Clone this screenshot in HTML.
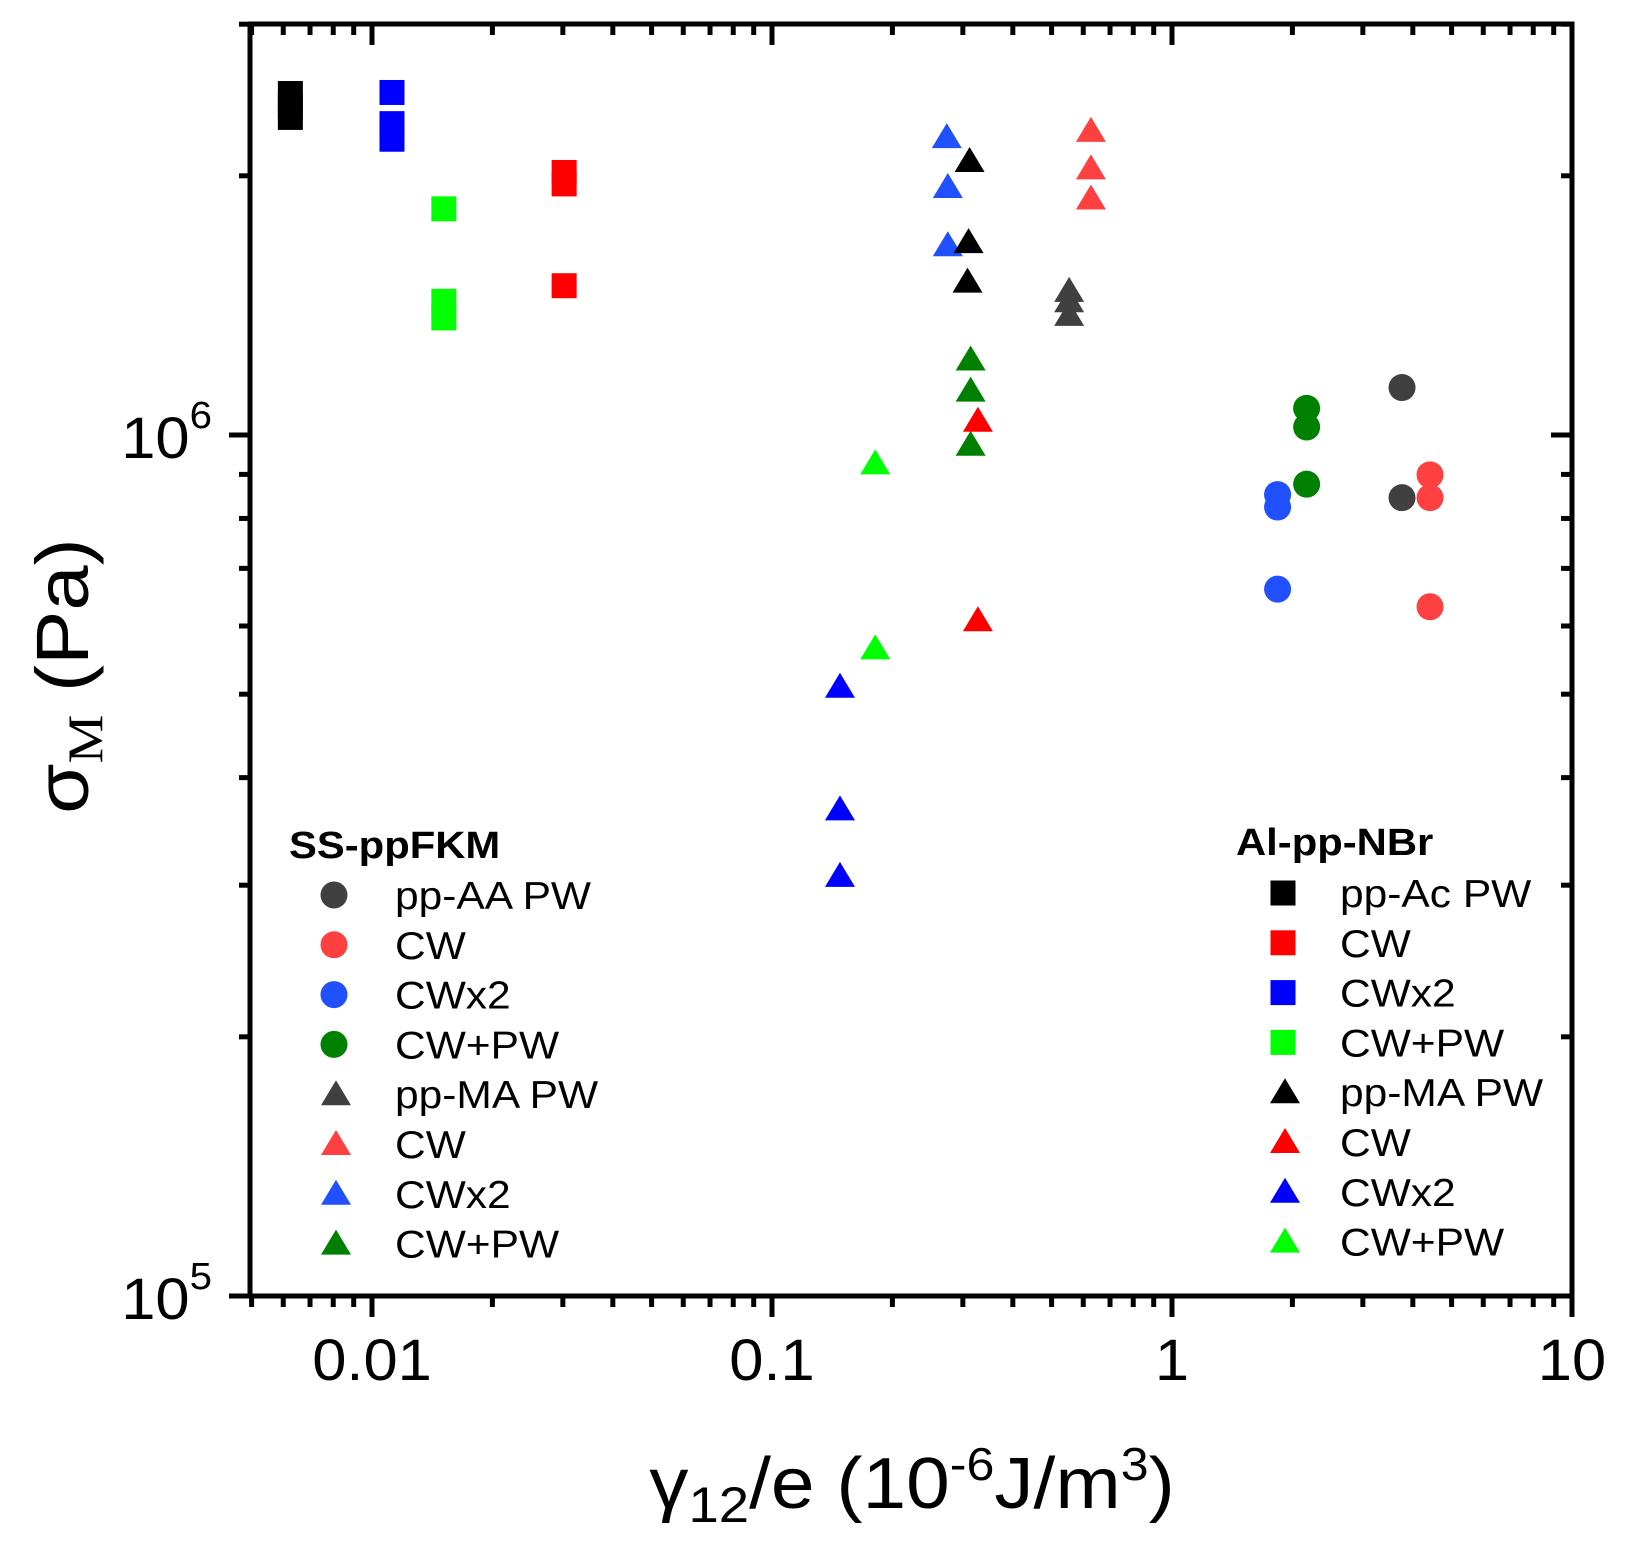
<!DOCTYPE html>
<html><head><meta charset="utf-8"><style>html,body{margin:0;padding:0;background:#fff}svg{display:block}</style></head>
<body>
<svg id="s" width="1626" height="1547" xmlns="http://www.w3.org/2000/svg" font-family="Liberation Sans, Arial, sans-serif">
<rect width="1626" height="1547" fill="#fff"/>
<g id="data"></g>
<g id="axes" stroke="#000" stroke-width="5" fill="none"></g>
<g font-size="58" fill="#000" text-anchor="middle">
<text transform="translate(372,1380) scale(1.06,1)">0.01</text>
<text transform="translate(772,1380) scale(1.06,1)">0.1</text>
<text transform="translate(1172,1380) scale(1.06,1)">1</text>
<text transform="translate(1572,1380) scale(1.06,1)">10</text>
</g>
<g font-size="58" fill="#000" text-anchor="end">
<text transform="translate(212,458) scale(1.06,1)">10<tspan font-size="38" dy="-30">6</tspan></text>
<text transform="translate(212,1319) scale(1.06,1)">10<tspan font-size="38" dy="-30">5</tspan></text>
</g>
<text transform="translate(88,676) rotate(-90) scale(1.1,1)" font-size="74" text-anchor="middle">σ<tspan font-size="50" dy="14" font-family="Liberation Serif, serif">M</tspan><tspan dy="-14"> (Pa)</tspan></text>
<text transform="translate(912,1508) scale(1.09,1)" font-size="72" text-anchor="middle">γ<tspan font-size="50" dy="14">12</tspan><tspan dy="-14">/e (10</tspan><tspan font-size="46" dy="-28">-6</tspan><tspan dy="28">J/m</tspan><tspan font-size="46" dy="-28">3</tspan><tspan dy="28">)</tspan></text>
<g id="leg"></g>
</svg>
<script>
const NS="http://www.w3.org/2000/svg";
const L=250,R=1572,T=24,B=1296;
const X=v=>372+400*Math.log10(v/0.01);
const Y=v=>435-861*Math.log10(v/1e6);
const ax=document.getElementById('axes');
function ln(x1,y1,x2,y2){const e=document.createElementNS(NS,'line');e.setAttribute('x1',x1);e.setAttribute('y1',y1);e.setAttribute('x2',x2);e.setAttribute('y2',y2);ax.appendChild(e);}
ln(L,T,R,T);ln(L,B,R,B);ln(L,T-2.5,L,B+2.5);ln(R,T-2.5,R,B+2.5);
for(let d=-3;d<=1;d++){for(let m=1;m<10;m++){const v=m*Math.pow(10,d);if(v<0.005-1e-9||v>10+1e-9)continue;const x=X(v);const len=m==1?21:11;ln(x,B,x,B+len);ln(x,T,x,T+len);}}
for(let d=5;d<=6;d++){for(let m=1;m<10;m++){const v=m*Math.pow(10,d);if(v>3e6+1)continue;const y=Y(v);const len=m==1?21:11;ln(L-len,y,L,y);ln(R-len,y,R,y);}}
const g=document.getElementById('data');
function sq(x,y,c){const e=document.createElementNS(NS,'rect');e.setAttribute('x',x-12.5);e.setAttribute('y',y-12.5);e.setAttribute('width',25);e.setAttribute('height',25);e.setAttribute('fill',c);return e;}
function ci(x,y,c){const e=document.createElementNS(NS,'circle');e.setAttribute('cx',x);e.setAttribute('cy',y);e.setAttribute('r',13.5);e.setAttribute('fill',c);return e;}
function tr(x,y,c){const e=document.createElementNS(NS,'polygon');e.setAttribute('points',`${x},${y-14} ${x+15},${y+11} ${x-15},${y+11}`);e.setAttribute('fill',c);return e;}
const sx=1.037,sy=1.039;
[[280,90,'#000'],[280,102,'#000'],[280,113,'#000'],
 [378,89,'#0000ff'],[378,119,'#0000ff'],[378,134,'#0000ff'],
 [428,201,'#00ff00'],[428,290,'#00ff00'],[428,306,'#00ff00'],
 [544,166,'#ff0000'],[544,177,'#ff0000'],[544,275,'#ff0000']].forEach(p=>g.appendChild(sq(p[0]*sx,p[1]*sy,p[2])));
const tris=[[913,132,'#2050ff'],[914,180,'#2050ff'],[914,236,'#2050ff'],
[935,155,'#000'],[934,233,'#000'],[933,271,'#000'],
[1052,126,'#ff4040'],[1052,162,'#ff4040'],[1052,191,'#ff4040'],
[1031,280,'#404040'],[1031,290,'#404040'],[1031,303,'#404040'],
[936,346,'#008000'],[936,376,'#008000'],[936,428,'#008000'],
[943,405,'#ff0000'],[943,597,'#ff0000'],
[844,446,'#00ff00'],[844,624,'#00ff00'],
[810,661,'#0000ff'],[810,779,'#0000ff'],[810,843,'#0000ff']];
tris.forEach(p=>g.appendChild(tr(p[0]*sx,p[1]*sy,p[2])));
const circs=[[1352,373,'#404040'],[1352,479,'#404040'],
[1379,457,'#ff4040'],[1379,479,'#ff4040'],[1379,584,'#ff4040'],
[1232,476,'#2050ff'],[1232,488,'#2050ff'],[1232,567,'#2050ff'],
[1260,393,'#008000'],[1260,411,'#008000'],[1260,466,'#008000']];
circs.forEach(p=>g.appendChild(ci(p[0]*sx,p[1]*sy,p[2])));
const lg=document.getElementById('leg');
function txt(x,y,s,b){const e=document.createElementNS(NS,'text');e.setAttribute('transform',`translate(${x},${y}) scale(${b?1.1:1.09},1)`);e.setAttribute('font-size',b?38:39);if(b)e.setAttribute('font-weight','bold');e.textContent=s;lg.appendChild(e);}
txt(289,858,'SS-ppFKM',true);
const left=[['c','#404040','pp-AA PW'],['c','#ff4040','CW'],['c','#2050ff','CWx2'],['c','#008000','CW+PW'],['t','#404040','pp-MA PW'],['t','#ff4040','CW'],['t','#2050ff','CWx2'],['t','#008000','CW+PW']];
left.forEach((it,i)=>{const y=895+49.8*i;lg.appendChild(it[0]=='c'?ci(334,y,it[1]):tr(336,y,it[1]));txt(395,y+14,it[2]);});
txt(1236,855,'Al-pp-NBr',true);
const right=[['s','#000','pp-Ac PW'],['s','#ff0000','CW'],['s','#0000ff','CWx2'],['s','#00ff00','CW+PW'],['t','#000','pp-MA PW'],['t','#ff0000','CW'],['t','#0000ff','CWx2'],['t','#00ff00','CW+PW']];
right.forEach((it,i)=>{const y=893+49.8*i;lg.appendChild(it[0]=='s'?sq(1283,y,it[1]):tr(1285,y,it[1]));txt(1340,y+14,it[2]);});
</script>
</body></html>
